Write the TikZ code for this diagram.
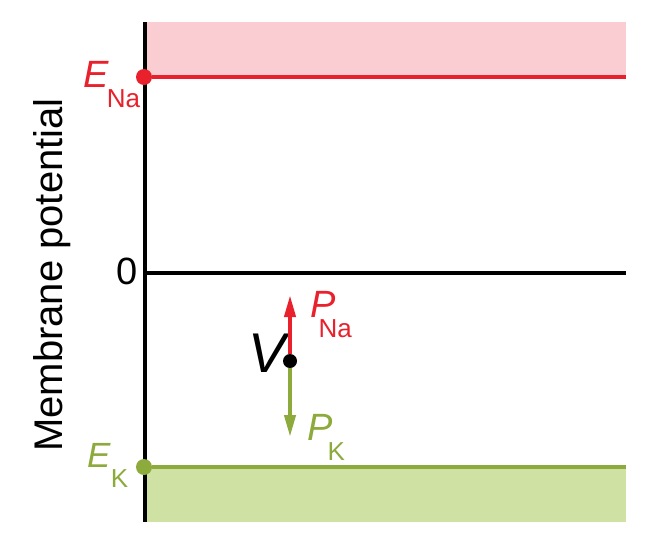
\documentclass[tikz,border=0pt]{standalone}
\usepackage{fontspec}
\setmainfont{Liberation Sans}
\usetikzlibrary{arrows.meta,positioning}
\definecolor{nared}{HTML}{E8212C}
\definecolor{napink}{HTML}{F9CDD1}
\definecolor{kgreen}{HTML}{8DAA3C}
\definecolor{klight}{HTML}{CFE1A3}
\newcommand{\potlabel}[3]{\textit{#1}\kern#3\raisebox{-20pt}{\fontsize{26}{26}\selectfont #2}}

\begin{document}
\begin{tikzpicture}[x=1pt,y=-1pt,>={Triangle[length=22pt,width=11pt]},
    level/.style={line width=4pt},
    dot/.style={circle,inner sep=0pt,minimum size=16pt},
    lbl/.style={inner sep=0pt,font=\fontsize{38}{38}\selectfont}]
\useasboundingbox (0,0) rectangle (666,544);
% bands
\fill[napink] (145,22) rectangle (626,77);
\fill[klight] (145,467) rectangle (626,522);
% axis
\coordinate (top) at (145,22);
\coordinate (bot) at (145,522);
\draw[level] (top) -- (bot);
\node[lbl,rotate=90,anchor=base,font=\fontsize{40}{40}\selectfont] (ylbl) at (62,275) {Membrane potential};
% levels
\coordinate (zero) at (145,273);
\coordinate (zeroend) at (626,273);
\draw[level] (zero) -- (zeroend);
\node[lbl,anchor=base east] (zerolbl) at (138,284) {0};
\node[dot,fill=nared] (ena) at (144,77) {};
\coordinate (enaend) at (626,77);
\draw[level,nared] (ena) -- (enaend);
\node[lbl,nared,anchor=base west] (enalbl) at (83,87) {\potlabel{E}{Na}{-2pt}};
\node[dot,fill=kgreen] (ek) at (144,467) {};
\coordinate (ekend) at (626,467);
\draw[level,kgreen] (ek) -- (ekend);
\node[lbl,kgreen,anchor=base west,font=\fontsize{35}{35}\selectfont] (eklbl) at (87,467) {\potlabel{E}{K}{0pt}};
% membrane potential and permeabilities
\node[dot,fill=black,minimum size=14pt] (v) at (290,361) {};
\node[lbl,anchor=base west,font=\fontsize{56}{56}\selectfont\itshape] (vlbl) at (248,372) {V};
\coordinate (pna) at (290,295);
\coordinate (pk) at (290,437);
\draw[->,level,nared] (v) -- (pna);
\draw[->,level,kgreen] (v) -- (pk);
\node[lbl,nared,anchor=base west] (pnalbl) at (310,317) {\potlabel{P}{Na}{-17pt}};
\node[lbl,kgreen,anchor=base west] (pklbl) at (307,440) {\potlabel{P}{K}{-5pt}};
\end{tikzpicture}
\end{document}
